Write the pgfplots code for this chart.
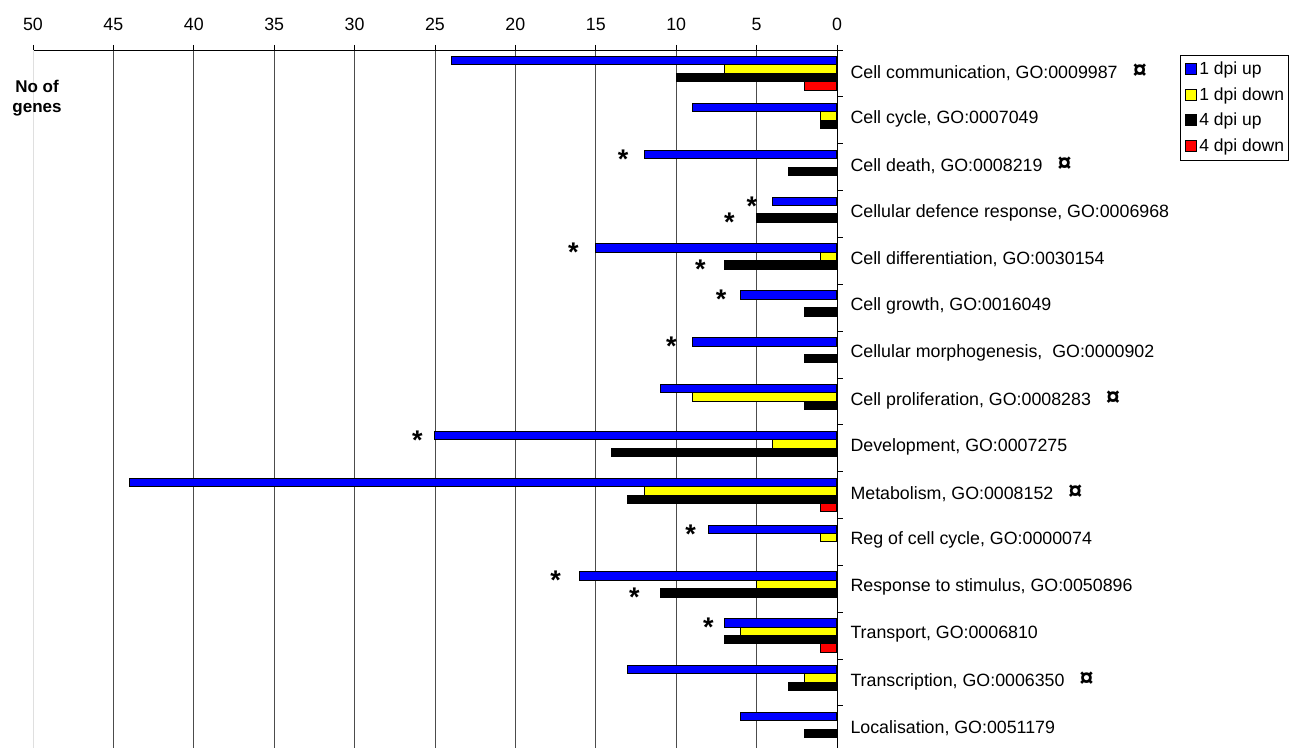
\documentclass[border=0pt]{standalone}
\usepackage{pgfplots}
\pgfplotsset{compat=1.18}
\usepackage{fontspec}
\setmainfont{Liberation Sans}
\newcommand{\cur}{\hspace{0.85em}{\bfseries\fontsize{25}{20}\selectfont ¤}}
\newcommand{\fs}{\fontsize{17.8}{21}\selectfont}
\begin{document}
\begin{tikzpicture}
\begin{axis}[name=ax,
  scale only axis, width=804pt, height=698pt,
  x dir=reverse, xmin=0, xmax=50, ymin=-0.4, ymax=14.5,
  axis x line*=top, axis y line*=right,
  axis line style={line width=0.8pt},
  xtick={0,5,...,45}, extra x ticks={50},
  extra x tick style={grid style={gray!25, line width=0.8pt}},
  xmajorgrids, grid style={black!70, line width=0.8pt},
  tick align=outside, major tick length=5pt, minor tick length=6pt,
  tick style={black, line width=0.8pt},
  xticklabel pos=top,
  xticklabel style={font=\fs, yshift=11pt},
  /pgf/number format/assume math mode=true,
  ytick={0,...,14},
  minor ytick={0.5,1.5,...,14.5},
  major y tick style={draw=none},
  yticklabel pos=right,
  yticklabel style={font=\fs, anchor=west, xshift=5pt, yshift=1.5pt},
  yticklabels={
    {Localisation, GO:0051179},
    {Transcription, GO:0006350\cur},
    {Transport, GO:0006810},
    {Response to stimulus, GO:0050896},
    {Reg of cell cycle, GO:0000074},
    {Metabolism, GO:0008152\cur},
    {Development, GO:0007275},
    {Cell proliferation, GO:0008283\cur},
    {Cellular morphogenesis,~ GO:0000902},
    {Cell growth, GO:0016049},
    {Cell differentiation, GO:0030154},
    {Cellular defence response, GO:0006968},
    {Cell death, GO:0008219\cur},
    {Cell cycle, GO:0007049},
    {Cell communication, GO:0009987\cur}},
  legend style={at={(axis description cs:1.4266,0.9935)}, anchor=north west,
    draw=black, line width=0.8pt, font=\fontsize{17.5}{20}\selectfont,
    row sep=7.5pt, inner xsep=2pt, inner ysep=5pt},
  legend cell align=left,
  legend image code/.code={\path (0pt,0pt) (14pt,0pt);\draw[#1, draw=black, line width=0.8pt] (3pt,-5.5pt) rectangle (14pt,5.5pt);},
]
\addplot[xbar, bar width=0.18, bar shift=0.27, fill={rgb,255:red,0;green,0;blue,255}, draw=black, line width=1pt]
 coordinates {(24,14) (9,13) (12,12) (4,11) (15,10) (6,9) (9,8) (11,7) (25,6) (44,5) (8,4) (16,3) (7,2) (13,1) (6,0)};
\addlegendentry{1 dpi up}
\addplot[xbar, bar width=0.18, bar shift=0.09, fill={rgb,255:red,255;green,255;blue,0}, draw=black, line width=1pt]
 coordinates {(7,14) (1,13) (1,10) (9,7) (4,6) (12,5) (1,4) (5,3) (6,2) (2,1)};
\addlegendentry{1 dpi down}
\addplot[xbar, bar width=0.18, bar shift=-0.09, fill=black, draw=black, line width=1pt]
 coordinates {(10,14) (1,13) (3,12) (5,11) (7,10) (2,9) (2,8) (2,7) (14,6) (13,5) (11,3) (7,2) (3,1) (2,0)};
\addlegendentry{4 dpi up}
\addplot[xbar, bar width=0.18, bar shift=-0.27, fill={rgb,255:red,255;green,0;blue,0}, draw=black, line width=1pt]
 coordinates {(2,14) (1,5) (1,2)};
\addlegendentry{4 dpi down}
\addplot[forget plot, draw=none, mark=none,
  nodes near coords={\fontsize{27}{27}\selectfont\bfseries *},
  every node near coord/.append style={anchor=center, inner sep=0pt, yshift=-4.5pt}]
 coordinates {(13.3,12.27) (5.3,11.27) (6.7,10.91) (16.4,10.27) (8.5,9.91) (7.2,9.27) (10.3,8.27) (26.1,6.27) (9.1,4.27) (17.5,3.27) (12.6,2.91) (8.0,2.27)};
\end{axis}
\node[font=\fontsize{17}{19.5}\selectfont\bfseries, align=center, anchor=north] at ([xshift=4pt,yshift=-27pt]ax.north west) {No of\\genes};
\pgfresetboundingbox
\path ([xshift=-33pt]ax.south west) rectangle ([xshift=457pt,yshift=50pt]ax.north east);
\end{tikzpicture}
\end{document}
